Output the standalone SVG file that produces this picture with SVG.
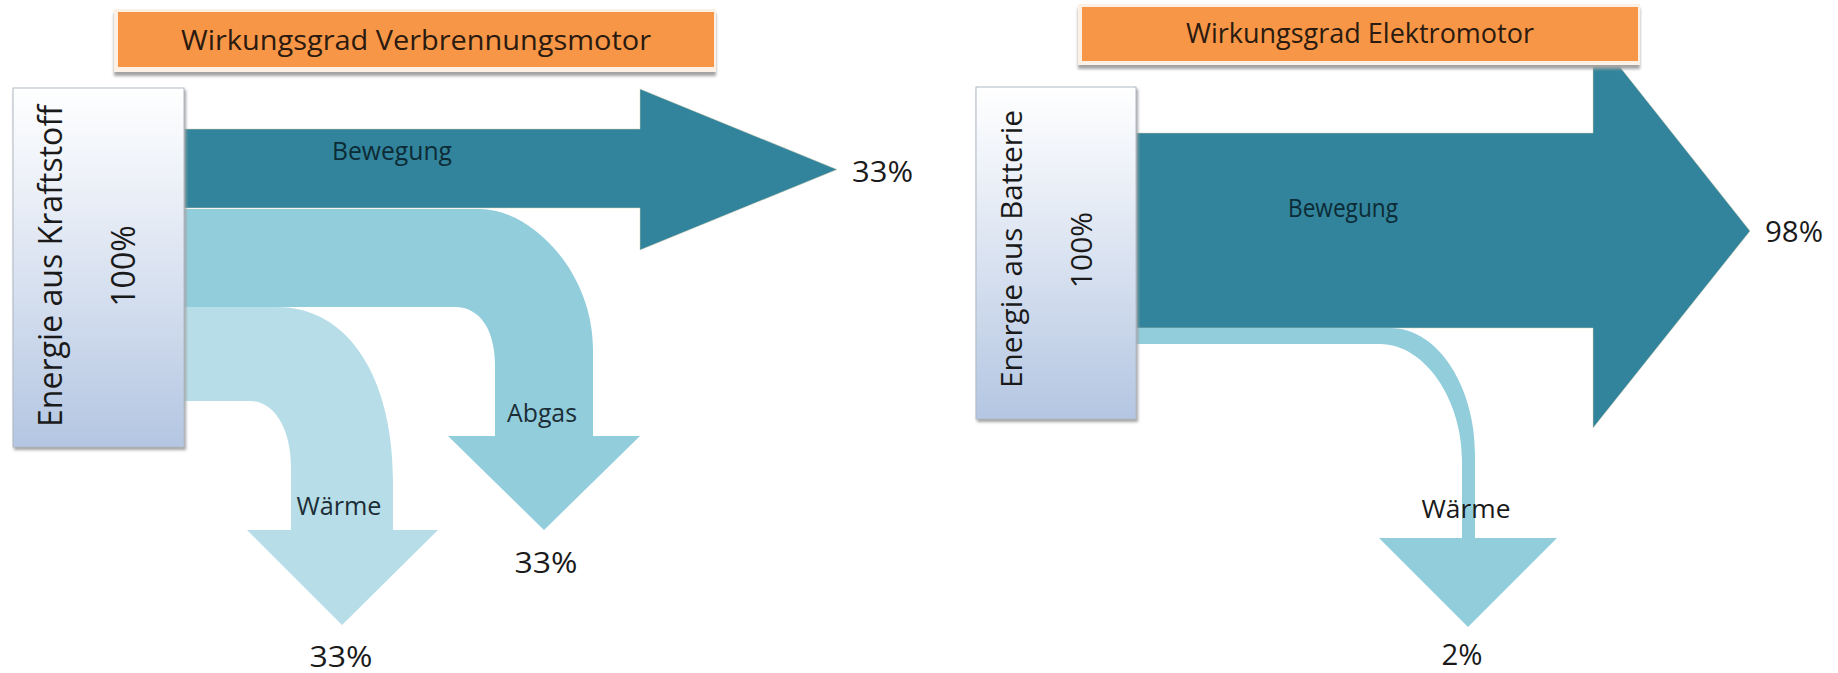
<svg xmlns="http://www.w3.org/2000/svg" width="1838" height="673" viewBox="0 0 1838 673">
<defs>
<linearGradient id="srcGrad" x1="0" y1="0" x2="0" y2="1">
<stop offset="0" stop-color="#ffffff"/>
<stop offset="0.3" stop-color="#eaeff7"/>
<stop offset="1" stop-color="#b4c6e2"/>
</linearGradient>
<filter id="blur" x="-5%" y="-5%" width="110%" height="120%"><feGaussianBlur stdDeviation="1.4"/></filter>
</defs>
<style>
text{font-family:"Open Sans","Liberation Sans",sans-serif}
.ttl{font-size:28px;fill:#2a1a10;text-anchor:middle}
.lbl{font-size:25px;fill:#1c2d36;text-anchor:middle}
.lblDark{font-size:25px;fill:#0d2b36;text-anchor:middle}
.pct{font-size:30px;fill:#1a1a1a}
.src{font-size:32px;fill:#1a1a1a;text-anchor:middle}
.dark{fill:#31849b;stroke:#d8d0b4;stroke-width:1;stroke-opacity:0.5}
.mid{fill:#92cddc}
.light{fill:#b7dee8}
.orange{fill:#f79646}
.pale{fill:#fdf0e4}
.shadow{fill:#a3a3a3;filter:url(#blur)}
.box{fill:url(#srcGrad);stroke:#b0b8c6;stroke-width:1}
</style>

<g id="connectors">
<!-- left: Verbrennungsmotor -->
<path id="flow-waerme-left" class="light" d="M184,307 L277,307 C350,307 393,380 393,480 L393,530 L438,530 L342,625 L247,530 L291,530 L291,467 C291,430 275,401 250,401 L184,401 Z"/>
<path id="flow-abgas" class="mid" d="M184,209 L480,209 C530,209 593,270 593,350 L593,436 L640,436 L544,530 L448,436 L495,436 L495,365 C495,330 480,307 455,307 L184,307 Z"/>
<polygon id="flow-bewegung-left" class="dark" points="184,129 640,129 640,89 837,169.5 640,250 640,208 184,208"/>
<!-- right: Elektromotor -->
<polygon id="flow-bewegung-right" class="dark" points="1136,133 1593,133 1593,33 1750,231 1593,428 1593,328 1136,328"/>
<path id="flow-waerme-right" class="mid" d="M1136,328 L1390,328 C1440,328 1475,390 1475,453 L1475,538 L1557,538 L1468,627 L1379,538 L1462,538 L1462,460 C1462,400 1425,344 1380,344 L1136,344 Z"/>
</g>

<g id="title-left">
<rect class="shadow" x="114" y="13" width="602" height="63"/>
<rect class="pale" x="114" y="9" width="602" height="63"/>
<rect class="orange" x="118" y="12" width="596" height="55"/>
<text class="ttl" x="416" y="50" textLength="470" lengthAdjust="spacingAndGlyphs">Wirkungsgrad Verbrennungsmotor</text>
</g>

<g id="title-right">
<rect class="shadow" x="1078" y="8" width="562" height="61"/>
<rect class="pale" x="1078" y="4" width="562" height="61"/>
<rect class="orange" x="1082" y="7" width="556" height="54"/>
<text class="ttl" x="1360" y="43" textLength="348" lengthAdjust="spacingAndGlyphs">Wirkungsgrad Elektromotor</text>
</g>

<g id="source-left">
<rect class="shadow" x="14" y="90" width="172" height="360"/>
<rect class="box" x="13" y="88" width="171" height="359"/>
<text class="src" transform="translate(62,266) rotate(-90)" textLength="322" lengthAdjust="spacingAndGlyphs">Energie aus Kraftstoff</text>
<text class="src" transform="translate(135,266) rotate(-90)">100%</text>
</g>

<g id="source-right">
<rect class="shadow" x="977" y="89" width="161" height="333"/>
<rect class="box" x="976" y="87" width="160" height="332"/>
<text class="src" style="font-size:30px" transform="translate(1022,249) rotate(-90)" textLength="278" lengthAdjust="spacingAndGlyphs">Energie aus Batterie</text>
<text class="src" style="font-size:30px" transform="translate(1092,250) rotate(-90)">100%</text>
</g>

<g id="labels-left">
<text class="lblDark" x="392" y="160" textLength="120" lengthAdjust="spacingAndGlyphs">Bewegung</text>
<text class="pct" x="852" y="182" textLength="61" lengthAdjust="spacingAndGlyphs">33%</text>
<text class="lbl" x="542" y="422" textLength="70" lengthAdjust="spacingAndGlyphs">Abgas</text>
<text class="pct" x="546" y="573" text-anchor="middle" textLength="63" lengthAdjust="spacingAndGlyphs">33%</text>
<text class="lbl" x="339" y="515" textLength="85" lengthAdjust="spacingAndGlyphs">Wärme</text>
<text class="pct" x="341" y="667" text-anchor="middle" textLength="63" lengthAdjust="spacingAndGlyphs">33%</text>
</g>

<g id="labels-right">
<text class="lblDark" x="1343" y="217" textLength="110" lengthAdjust="spacingAndGlyphs">Bewegung</text>
<text class="pct" x="1765" y="242" textLength="58" lengthAdjust="spacingAndGlyphs">98%</text>
<text class="lbl" x="1466" y="518" textLength="89" lengthAdjust="spacingAndGlyphs" style="fill:#1a1a1a">Wärme</text>
<text class="pct" x="1462" y="665" text-anchor="middle" textLength="41" lengthAdjust="spacingAndGlyphs">2%</text>
</g>
</svg>
